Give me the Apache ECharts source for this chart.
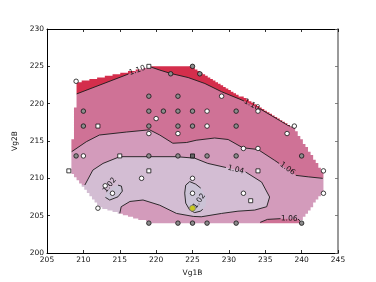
<!DOCTYPE html>
<html><head><meta charset="utf-8">
<script src="https://cdn.jsdelivr.net/npm/echarts@6/dist/echarts.min.js"></script>
<style>html,body{margin:0;padding:0;background:#fff}#c{width:376px;height:282px}</style>
</head><body><div id="c"></div><script>
// ---- axes ----
const xRange = [205, 245], yRange = [200, 230], tickStep = 5;
const xName = 'Vg1B', yName = 'Vg2B';

// ---- sample points (Vg1B, Vg2B) by marker kind ----
const grayCircles = [[222,224],[225,225],[226,224],[210,219],[210,217],[219,221],[219,219],[221,219],[219,217],[223,221],[223,219],[223,217],[225,219],[225,217],[231,219],[231,217],[219,213],[223,213],[227,213],[231,213],[240,213],[219,204],[223,204],[225,204],[227,204],[231,204],[240,204],[209,213]];
const whiteCircles = [[209,223],[220,218],[219,216],[223,216],[229,221],[227,219],[227,217],[234,219],[238,216],[232,214],[234,214],[243,211],[243,208],[225,210],[225,208],[232,208],[218,210],[213,209],[214,208],[212,206],[210,213],[239,217]];
const whiteSquares = [[219,225],[212,217],[208,211],[215,213],[219,211],[234,211],[233,207]];
const darkSquares = [[225,213]];
const highlight = [[225,206]];

// ---- contour lines (segments, broken where labels sit) ----
const c110 = [
  [[208.95,221.26],[216.2,223.97]],
  [[218.6,224.85],[219,225],[220.5,224.5],[222,224.05],[224.4,223.5],[226.7,222.7],[229,221.6],[231.5,220.6],[232.1,220.35]],
  [[234.2,219.35],[236.2,218.2],[238.1,217.1],[239.1,216.7]]
];
const c106 = [
  [[208.35,213.54],[210.4,214.9],[212.2,215.8],[215.9,216.2],[219.1,216.5],[220.5,215.8],[222.3,214.7],[224.2,214.8],[225.5,215.1],[228.05,215.4],[229.9,215.2],[231.9,214.1],[234.0,213.86],[236.3,212.4],[236.9,212.0]],
  [[239.2,210.4],[240.9,210.2],[242.9,210.0]]
];
const c106b = [
  [[234.3,204.1],[235.3,204.5],[237.1,204.6]],
  [[239.5,204.55],[239.9,204.2]]
];
const c104 = [
  [[210.2,209.1],[211.3,211.1],[212.7,212.0],[215,212.9],[219.1,212.9],[222.8,212.9],[225.3,212.7],[227.1,212.0],[229.6,211.45]],
  [[232.3,210.85],[234.5,209.5],[235.6,207.5],[235.2,206.2],[233.55,205.75],[231.25,205.6],[229.0,205.3],[226.2,204.85],[225.1,204.9],[222.8,205.3],[220.5,206.4],[218.2,207.1],[216.4,206.9],[215.2,206.2],[215.0,205.3]]
];
const c102a = [
  [[214.76,209.09],[215.23,208.96],[215.36,208.29],[214.76,207.53],[213.62,207.09],[213.03,207.45]]
];
const c102aHidden = [[213.0,207.62],[213.27,208.16],[213.9,208.76],[214.44,209.02]];
const c102b = [
  [[226.13,208.69],[225.44,209.22],[224.62,209.56],[224.07,209.09],[223.93,208.02],[224.07,206.68],[224.62,205.75],[225.30,205.41],[226.13,205.61],[226.40,205.88]]
];
const c102bHidden = [[226.81,206.28],[226.88,207.35],[226.27,208.56]];

// ---- contour labels: text, x, y, rotation (deg) ----
const labels = [
  ['1.10', 217.4, 224.45, 19],
  ['1.10', 233.15, 219.85, -28],
  ['1.06', 238.05, 211.3, -36],
  ['1.04', 230.95, 211.15, -14],
  ['1.06', 238.3, 204.6, -3],
  ['1.02', 213.62, 209.09, 52],
  ['1.02', 225.92, 206.95, 55]
];

// ---- band colours ----
const colMid = '#d39bbb', colHigh = '#cf7296', colTop = '#d42e4c', colLow = '#d3bdd3', colMin = '#cbc3d6';

const join = segs => [].concat(...segs);
const bandBase = [[[206,203],[244.5,203],[244.5,227],[206,227]]];
const bandHigh = [
  join(c106).concat([[244.5,210.0],[244.5,227],[206.5,227],[206.5,213.5]]),
  join(c106b).concat([[240.6,203.4],[234,203.4]])
];
const bandTop = [join(c110).concat([[241,217],[241,227.5],[207,227.5],[207,221.2]])];
const bandLow = [join(c104).concat([[214.8,203.4],[206.5,203.4],[206.5,209.1]])];
const bandMin = [join(c102a).concat(c102aHidden), join(c102b).concat(c102bHidden)];

// ---- convex hull of samples, rasterised on the interpolation grid ----
const allPts = grayCircles.concat(whiteCircles, whiteSquares, darkSquares, highlight);
function hull(pts) {
  const p = pts.slice().sort((a,b)=>a[0]-b[0]||a[1]-b[1]);
  const cr = (o,a,b)=>(a[0]-o[0])*(b[1]-o[1])-(a[1]-o[1])*(b[0]-o[0]);
  const lo=[], up=[];
  for (const q of p){ while(lo.length>=2&&cr(lo[lo.length-2],lo[lo.length-1],q)<=0) lo.pop(); lo.push(q);}
  for (let i=p.length-1;i>=0;i--){const q=p[i]; while(up.length>=2&&cr(up[up.length-2],up[up.length-1],q)<=0) up.pop(); up.push(q);}
  lo.pop(); up.pop(); return lo.concat(up);
}
const H = hull(allPts);
function inHull(x,y){
  for (let i=0;i<H.length;i++){const a=H[i], b=H[(i+1)%H.length];
    if ((b[0]-a[0])*(y-a[1])-(b[1]-a[1])*(x-a[0]) < -1e-9) return false;}
  return true;
}
function stairOutline(){
  const NX=100, NY=100;
  const xs=H.map(p=>p[0]), ys=H.map(p=>p[1]);
  const x0=Math.min(...xs), x1=Math.max(...xs), y0=Math.min(...ys), y1=Math.max(...ys);
  const gx=[],gy=[];
  for(let i=0;i<NX;i++) gx.push(x0+(x1-x0)*i/(NX-1));
  for(let j=0;j<NY;j++) gy.push(y0+(y1-y0)*j/(NY-1));
  const top=[], bot=[];
  for(let i=0;i<NX-1;i++){
    let lo=-1, hi=-1;
    for(let j=0;j<NY-1;j++){
      if(inHull(gx[i],gy[j])&&inHull(gx[i+1],gy[j])&&inHull(gx[i],gy[j+1])&&inHull(gx[i+1],gy[j+1])){ if(lo<0) lo=j; hi=j; }
    }
    if(lo<0) continue;
    top.push([gx[i],gy[hi+1]],[gx[i+1],gy[hi+1]]);
    bot.push([gx[i],gy[lo]],[gx[i+1],gy[lo]]);
  }
  return top.concat(bot.reverse());
}
const stair = stairOutline();

function polySeries(polys, color, z){
  return {type:'custom', coordinateSystem:'cartesian2d', z, silent:true, animation:false, clip:true,
    data: polys.map(p=>p[0]),
    renderItem:(params, api)=>({type:'polygon', shape:{points: polys[params.dataIndex].map(q=>api.coord(q))}, style:{fill:color}})};
}
function lineSeries(segs, z){
  return {type:'custom', coordinateSystem:'cartesian2d', z, silent:true, animation:false,
    data: segs.map(s=>s[0]),
    renderItem:(params, api)=>({type:'polyline', shape:{points: segs[params.dataIndex].map(q=>api.coord(q))}, style:{stroke:'#1a1a1a', lineWidth:0.9, fill:null}})};
}
const maskSeries = {type:'custom', coordinateSystem:'cartesian2d', z:8, silent:true, animation:false,
  data:[[225,215]],
  renderItem:(params, api)=>{
    const cs = params.coordSys;
    const L=cs.x-1, T=cs.y-1, R=cs.x+cs.width+1, B=cs.y+cs.height+1;
    let d = `M${L} ${T} L${L} ${B} L${R} ${B} L${R} ${T} Z `;
    const sp = stair.map(q=>api.coord(q));
    d += 'M' + sp.map(p=>p[0].toFixed(2)+' '+p[1].toFixed(2)).join(' L') + ' Z';
    return {type:'path', shape:{pathData:d}, style:{fill:'#ffffff'}};
  }};
const labelSeries = {type:'custom', coordinateSystem:'cartesian2d', z:10, silent:true, animation:false,
  data: labels.map(l=>[l[1],l[2]]),
  renderItem:(params, api)=>{
    const l = labels[params.dataIndex]; const p = api.coord([l[1],l[2]]);
    return {type:'text', x:p[0], y:p[1], rotation:l[3]*Math.PI/180,
      style:{text:l[0], fontSize:7.5, fontFamily:'DejaVu Sans', fill:'#111', align:'center', verticalAlign:'middle'}};
  }};
function scatter(data, symbol, size, fill, border, z){
  return {type:'scatter', data, symbol, symbolSize:size, z, silent:true, animation:false,
    itemStyle:{color:fill, borderColor:border, borderWidth:0.8, opacity:1}};
}
const fontFamily='DejaVu Sans';
function xAx(pos, show){
  return {type:'value', min:xRange[0], max:xRange[1], interval:tickStep, position:pos, z:12,
    axisLine:{show:true, onZero:false, lineStyle:{color:'#000', width:1}},
    axisTick:{show:true, inside:true, length:3, lineStyle:{color:'#000', width:0.8}},
    axisLabel:{show, fontSize:7.5, color:'#111', margin:3, fontFamily},
    splitLine:{show:false},
    name: show? xName : '', nameLocation:'middle', nameGap:8, nameTextStyle:{fontSize:7.5, color:'#111', fontFamily}};
}
function yAx(pos, show){
  const right = pos==='right';
  return {type:'value', min:yRange[0], max:yRange[1], interval:tickStep, position:pos, z:12,
    axisLine:{show:true, onZero:false, lineStyle:{color: right?'#9a9a9a':'#000', width: right?2:1}},
    axisTick:{show:true, inside:true, length:3, lineStyle:{color: right?'#666':'#000', width:0.8}},
    axisLabel:{show, fontSize:7.5, color:'#111', margin:3, fontFamily},
    splitLine:{show:false},
    name: show? yName : '', nameLocation:'middle', nameGap:8, nameRotate:90, nameTextStyle:{fontSize:7.5, color:'#111', fontFamily}};
}
const chart = echarts.init(document.getElementById('c'), null, {renderer:'canvas'});
chart.setOption({
  animation:false,
  grid:{left:47, right:38, top:29, bottom:29, containLabel:false},
  xAxis:[xAx('bottom', true), xAx('top', false)],
  yAxis:[yAx('left', true), yAx('right', false)],
  series:[
    polySeries(bandBase, colMid, 1),
    polySeries(bandHigh, colHigh, 2),
    polySeries(bandTop, colTop, 3),
    polySeries(bandLow, colLow, 4),
    polySeries(bandMin, colMin, 5),
    lineSeries(c110, 6), lineSeries(c106, 6), lineSeries(c106b, 6), lineSeries(c104, 6), lineSeries(c102a, 6), lineSeries(c102b, 6),
    maskSeries,
    labelSeries,
    scatter(grayCircles, 'circle', 4.5, '#8c8c8c', '#111', 20),
    scatter(whiteCircles, 'circle', 4.5, '#ffffff', '#111', 20),
    scatter(whiteSquares, 'rect', 4, '#ffffff', '#111', 20),
    scatter(darkSquares, 'rect', 4, '#666666', '#111', 20),
    scatter(highlight, 'circle', 6, '#c8c81e', '#777', 21)
  ]
});
</script></body></html>
